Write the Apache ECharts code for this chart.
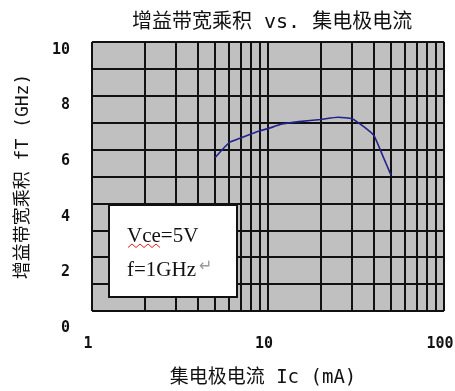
<!DOCTYPE html>
<html>
<head>
<meta charset="utf-8">
<script src="https://cdn.jsdelivr.net/npm/echarts@6/dist/echarts.min.js"></script>
<style>html,body{margin:0;padding:0;background:#fff}#c{width:455px;height:391px}</style>
</head>
<body>
<div id="c"></div>
<script>
// Data
const current = [5, 6, 7, 8, 9, 10, 12, 15, 20, 25, 30, 35, 40, 45, 50]; // Ic (mA)
const fT = [5.7, 6.25, 6.43, 6.58, 6.7, 6.78, 6.95, 7.04, 7.12, 7.2, 7.15, 6.85, 6.52, 5.75, 5.05]; // GHz
const xGridValues = [1, 2, 3, 4, 5, 6, 7, 8, 9, 10, 20, 30, 40, 50, 60, 70, 80, 90, 100];
const yTickLabels = [0, 2, 4, 6, 8, 10];
const titleText = '增益带宽乘积 vs. 集电极电流';
const xName = '集电极电流 Ic (mA)';
const yName = '增益带宽乘积 fT (GHz)';
const noteLines = ['Vce=5V', 'f=1GHz'];

const chart = echarts.init(document.getElementById('c'), null, {renderer: 'canvas'});
const mixFont = "'DejaVu Sans Mono', 'Noto Sans CJK SC', sans-serif";

// zigzag underline for "Vce"
const zig = [];
for (let i = 0; i <= 8; i++) zig.push([128 + i * 4, i % 2 ? 244 : 247.5]);

chart.setOption({
  animation: false,
  backgroundColor: '#fff',
  title: {
    text: titleText, left: 127, top: 8,
    textStyle: {fontFamily: mixFont, fontSize: 20, fontWeight: 'normal', color: '#111'}
  },
  grid: [
    {left: 92, right: 11, top: 42, bottom: 80, show: true, backgroundColor: '#c0c0c0', borderColor: '#555', borderWidth: 1, outerBoundsMode: 'none', containLabel: false},
    {left: 92, right: 11, top: 50, bottom: 63, show: false, outerBoundsMode: 'none', containLabel: false}
  ],
  xAxis: [
    {
      type: 'log', logBase: 10, min: 1, max: 100, gridIndex: 0,
      axisLine: {show: false}, axisTick: {show: false}, splitLine: {show: false},
      axisLabel: {margin: 26, fontFamily: mixFont, fontSize: 15, fontWeight: 'bold', color: '#111', padding: [0, 8, 0, 0]},
      name: xName, nameLocation: 'middle', nameGap: 58,
      nameTextStyle: {fontFamily: mixFont, fontSize: 19, color: '#111', padding: [0, 10, 0, 0]}
    },
    {type: 'value', gridIndex: 1, min: 0, max: 1, show: false}
  ],
  yAxis: [
    {
      type: 'value', min: 0, max: 10, interval: 1, gridIndex: 0,
      axisLine: {show: false}, axisTick: {show: false},
      axisLabel: {show: false},
      splitLine: {show: true, lineStyle: {color: '#111', width: 2}},
      name: yName, nameLocation: 'middle', nameRotate: 90, nameGap: 60,
      nameTextStyle: {fontFamily: mixFont, fontSize: 18, color: '#111'}
    },
    {
      type: 'value', min: 0, max: 10, interval: 2, gridIndex: 1,
      axisLine: {show: false}, axisTick: {show: false}, splitLine: {show: false},
      axisLabel: {
        margin: 22, fontFamily: mixFont, fontSize: 15, fontWeight: 'bold', color: '#111',
        formatter: v => yTickLabels.indexOf(v) >= 0 ? String(v) : ''
      }
    }
  ],
  series: [
    {
      type: 'line', xAxisIndex: 0, yAxisIndex: 0,
      data: current.map((x, i) => [x, fT[i]]),
      smooth: 0.15, symbol: 'none',
      lineStyle: {color: '#22228c', width: 1.6},
      markLine: {
        silent: true, symbol: 'none', label: {show: false},
        lineStyle: {color: '#111', width: 2, type: 'solid'},
        data: xGridValues.map(v => ({xAxis: v}))
      },
      z: 5
    }
  ],
  graphic: [
    {type: 'rect', shape: {x: 109, y: 205, width: 128, height: 92}, style: {fill: '#fff', stroke: '#111', lineWidth: 2}, z: 100},
    {type: 'text', x: 127, y: 226, style: {text: noteLines[0], font: "21px 'Liberation Serif', serif", fill: '#111'}, z: 101},
    {type: 'polyline', shape: {points: zig}, style: {stroke: '#e02020', lineWidth: 1, fill: null}, z: 102},
    {type: 'text', x: 127, y: 260, style: {text: noteLines[1], font: "21px 'Liberation Serif', serif", fill: '#111'}, z: 101},
    {type: 'text', x: 199, y: 259, style: {text: '↵', font: "16px 'DejaVu Sans', sans-serif", fill: '#999'}, z: 101}
  ]
});
</script>
</body>
</html>
